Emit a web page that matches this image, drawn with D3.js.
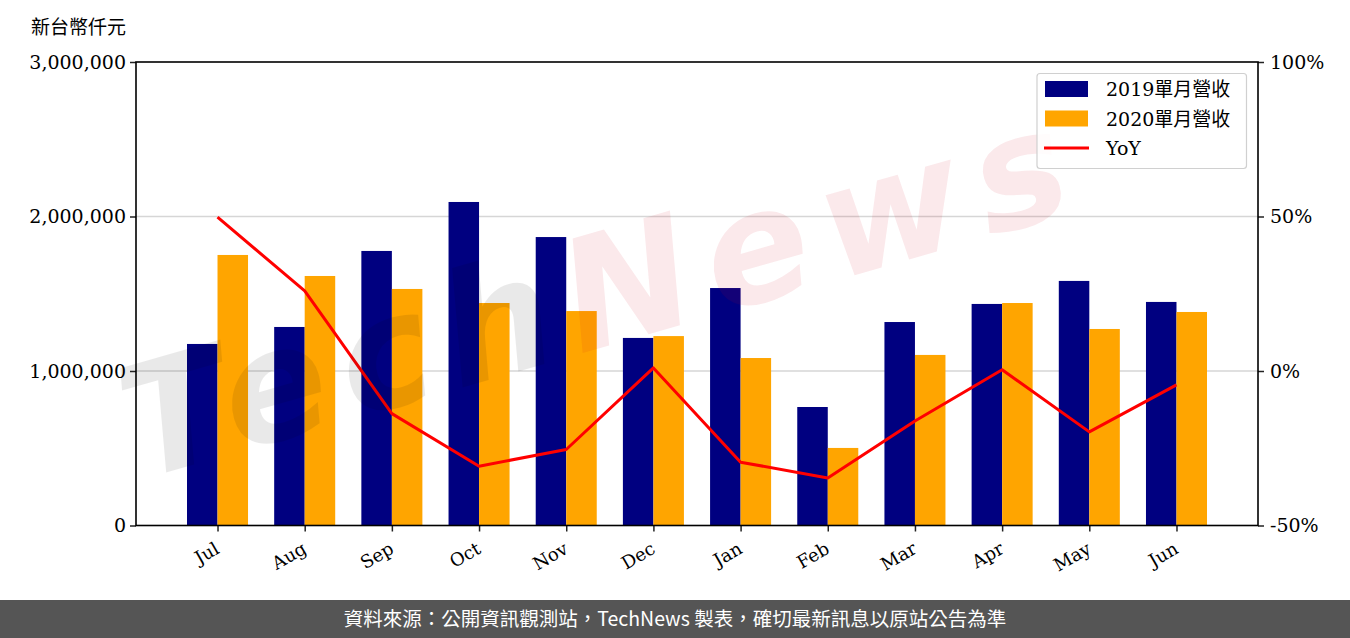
<!DOCTYPE html>
<html>
<head>
<meta charset="utf-8">
<script src="https://cdn.jsdelivr.net/npm/d3@7"></script>
<style>
  html, body { margin: 0; padding: 0; background: #fff; }
  svg { display: block; }
</style>
</head>
<body>
<div id="chart"></div>
<script>
const categories = ["Jul","Aug","Sep","Oct","Nov","Dec","Jan","Feb","Mar","Apr","May","Jun"];
const rev2019 = [1175000,1285000,1777000,2094000,1867000,1214000,1537000,767000,1317000,1434000,1583000,1447000];
const rev2020 = [1751000,1615000,1531000,1440000,1388000,1226000,1084000,502000,1104000,1440000,1272000,1382000];
const yoy = [49.8,25.9,-13.8,-30.8,-25.4,1.0,-29.5,-34.6,-16.2,0.4,-19.7,-4.5];
const leftTicks = [0,1000000,2000000,3000000];
const rightTicks = [-50,0,50,100];
const seriesNames = ["2019單月營收","2020單月營收","YoY"];
const yLabel = "新台幣仟元";
const footer = "資料來源：公開資訊觀測站，TechNews 製表，確切最新訊息以原站公告為準";

const W = 1350, H = 638;
const L = 136, R = 1258, T = 62, B = 525.5;
const serif = "'DejaVu Serif', 'Noto Sans CJK TC', serif";

const svg = d3.select("#chart").append("svg").attr("width", W).attr("height", H);

const x = d3.scaleLinear().domain([-0.935, 11.935]).range([L, R]);
const y = d3.scaleLinear().domain([0, 3000000]).range([B, T]);
const y2 = d3.scaleLinear().domain([-50, 100]).range([B, T]);
const bw = 0.35;

// gridlines
svg.append("g").selectAll("line").data([1000000, 2000000]).join("line")
  .attr("x1", L).attr("x2", R).attr("y1", d => y(d)).attr("y2", d => y(d))
  .attr("stroke", "#d6d6d6").attr("stroke-width", 1.5);

// bars
svg.append("g").selectAll("rect").data(rev2019).join("rect")
  .attr("x", (d, i) => x(i - bw)).attr("width", (d, i) => x(i) - x(i - bw))
  .attr("y", d => y(d)).attr("height", d => B - y(d)).attr("fill", "#000080");
svg.append("g").selectAll("rect").data(rev2020).join("rect")
  .attr("x", (d, i) => x(i)).attr("width", (d, i) => x(i + bw) - x(i))
  .attr("y", d => y(d)).attr("height", d => B - y(d)).attr("fill", "#ffa500");

// yoy line
svg.append("path").datum(yoy)
  .attr("d", d3.line().x((d, i) => x(i)).y(d => y2(d)))
  .attr("fill", "none").attr("stroke", "#ff0000").attr("stroke-width", 3)
  .attr("stroke-linejoin", "round");

// watermark
const wm = svg.append("g").attr("transform", "translate(140,480) rotate(-16)")
  .attr("font-family", "'DejaVu Sans', sans-serif").attr("font-style", "italic")
  .attr("font-weight", "bold").attr("font-size", 155).attr("letter-spacing", 16);
const wt = wm.append("text").attr("x", 0).attr("y", 0);
wt.append("tspan").text("Tech").attr("fill", "#000").attr("fill-opacity", 0.085);
wt.append("tspan").text("News").attr("fill", "#d01020").attr("fill-opacity", 0.09);

// axes
const axL = d3.axisLeft(y).tickValues(leftTicks).tickFormat(d3.format(",")).tickSize(6).tickPadding(4);
const axR = d3.axisRight(y2).tickValues(rightTicks).tickFormat(d => d + "%").tickSize(6).tickPadding(6);
const axB = d3.axisBottom(x).tickValues(d3.range(categories.length)).tickFormat(i => categories[i]).tickSize(6);

const gL = svg.append("g").attr("transform", `translate(${L},0)`).call(axL);
const gR = svg.append("g").attr("transform", `translate(${R},0)`).call(axR);
const gB = svg.append("g").attr("transform", `translate(0,${B})`).call(axB);
[gL, gR, gB].forEach(g => {
  g.select(".domain").remove();
  g.selectAll(".tick line").attr("stroke", "#222").attr("stroke-width", 1.5);
  g.selectAll(".tick text").attr("font-family", serif).attr("font-size", 19).attr("fill", "#000");
});
gB.selectAll(".tick text")
  .attr("text-anchor", "end").attr("dy", 0)
  .attr("transform", "translate(-2,19) rotate(-30)").attr("font-size", 18);

// frame
svg.append("rect").attr("x", L).attr("y", T).attr("width", R - L).attr("height", B - T)
  .attr("fill", "none").attr("stroke", "#000").attr("stroke-width", 1.6);

// y label
svg.append("text").attr("x", 31).attr("y", 34).text(yLabel)
  .attr("font-family", serif).attr("font-size", 19).attr("fill", "#000");

// legend
const lg = svg.append("g");
lg.append("rect").attr("x", 1037).attr("y", 73.5).attr("width", 209.5).attr("height", 95)
  .attr("rx", 3).attr("fill", "#fff").attr("fill-opacity", 0.85)
  .attr("stroke", "#d0d0d0").attr("stroke-width", 1.2);
const colors = ["#000080", "#ffa500", "#ff0000"];
seriesNames.forEach((n, i) => {
  const cy = 89 + i * 29.5;
  if (i < 2) {
    lg.append("rect").attr("x", 1045).attr("y", cy - 8).attr("width", 43).attr("height", 16).attr("fill", colors[i]);
  } else {
    lg.append("line").attr("x1", 1044).attr("x2", 1089).attr("y1", cy).attr("y2", cy)
      .attr("stroke", colors[i]).attr("stroke-width", 3);
  }
  lg.append("text").attr("x", 1106).attr("y", cy + 7).text(n)
    .attr("font-family", serif).attr("font-size", 19).attr("fill", "#000");
});

// footer
svg.append("rect").attr("x", 0).attr("y", 600).attr("width", W).attr("height", 38).attr("fill", "#555555");
svg.append("text").attr("x", 675).attr("y", 626).attr("text-anchor", "middle").text(footer)
  .attr("font-family", "'Noto Sans CJK TC', 'Noto Sans', sans-serif").attr("font-size", 19.5).attr("fill", "#fff");
</script>
</body>
</html>
